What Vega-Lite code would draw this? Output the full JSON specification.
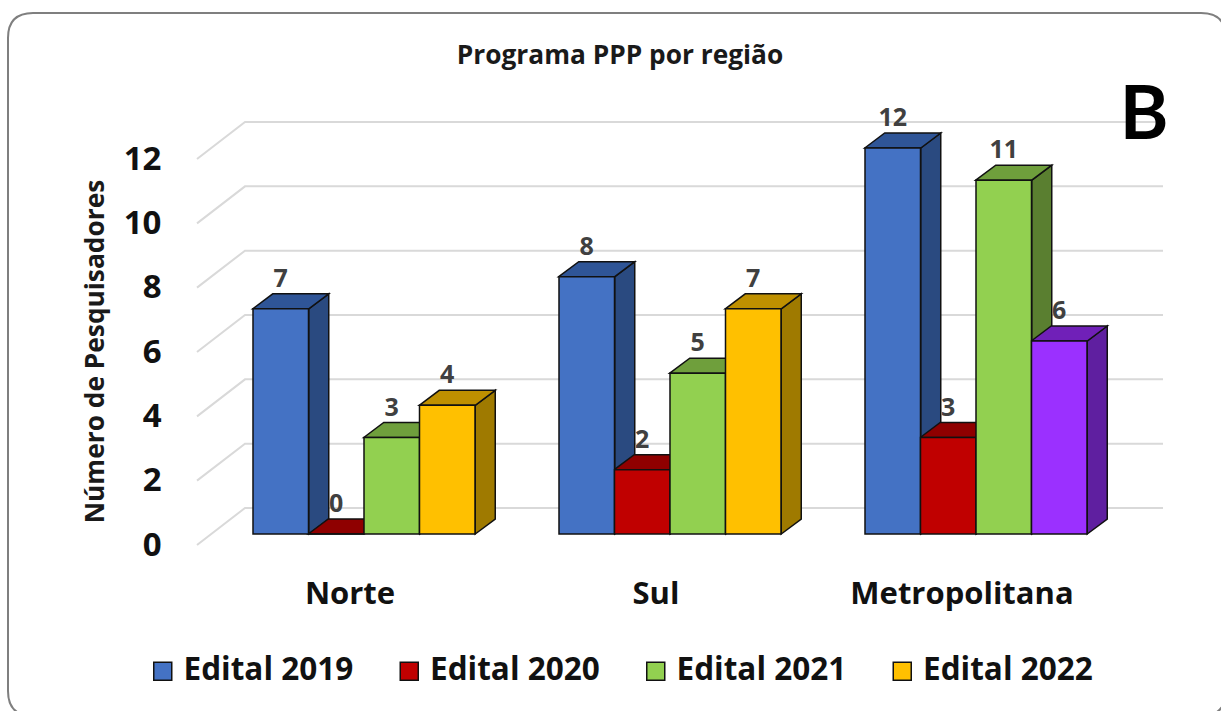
{"$schema":"https://vega.github.io/schema/vega-lite/v6.json","autosize":{"type":"none"},"width":918,"height":386,"padding":{"left":211,"top":148,"right":92,"bottom":177},"background":"#ffffff","config":{"view":{"stroke":null},"font":"Open Sans"},"title":{"text":"Programa PPP por região","font":"Open Sans","fontSize":26.3,"fontWeight":"bold","color":"#1a1a1a","anchor":"middle","dx":-50,"offset":-60},"datasets":{"barras":[{"regiao":"Norte","edital":"Edital 2019","valor":7},{"regiao":"Norte","edital":"Edital 2020","valor":0},{"regiao":"Norte","edital":"Edital 2021","valor":3},{"regiao":"Norte","edital":"Edital 2022","valor":4},{"regiao":"Sul","edital":"Edital 2019","valor":8},{"regiao":"Sul","edital":"Edital 2020","valor":2},{"regiao":"Sul","edital":"Edital 2021","valor":5},{"regiao":"Sul","edital":"Edital 2022","valor":7},{"regiao":"Metropolitana","edital":"Edital 2019","valor":12},{"regiao":"Metropolitana","edital":"Edital 2020","valor":3},{"regiao":"Metropolitana","edital":"Edital 2021","valor":11},{"regiao":"Metropolitana","edital":"Edital 2022","valor":6}],"marcas":[{"tick":0},{"tick":2},{"tick":4},{"tick":6},{"tick":8},{"tick":10},{"tick":12}]},"layer":[{"data":{"values":[{"moldura":1}]},"mark":{"type":"point","filled":false,"opacity":1,"size":4,"stroke":"#7f7f7f","strokeWidth":2,"shape":"M-637,-328 L531,-328 Q556,-328 556,-303 L556,350 Q556,375 531,375 L-637,375 Q-662,375 -662,350 L-662,-303 Q-662,-328 -637,-328 Z"}},{"data":{"name":"marcas"},"mark":{"type":"point","filled":false,"opacity":1,"size":4,"stroke":"#d9d9d9","strokeWidth":2,"shape":"M493,-26 L-425,-26 L-473,11"},"encoding":{"y":{"field":"tick","type":"quantitative","scale":{"domain":[0,12],"nice":false,"zero":true},"axis":{"values":[0,2,4,6,8,10,12],"format":"d","grid":false,"domain":false,"ticks":false,"labelFont":"Open Sans","labelFontSize":33,"labelFontWeight":"bold","labelColor":"#111111","labelPadding":50,"labelOffset":11,"title":"Número de Pesquisadores","titleFont":"Open Sans","titleFontSize":26.3,"titleFontWeight":"bold","titleColor":"#1a1a1a","titleX":-116,"titleY":203,"titleAngle":-90,"titleAlign":"center","titleBaseline":"middle"}}}},{"data":{"name":"barras"},"mark":{"type":"point","filled":true,"opacity":1,"size":4,"stroke":"#111111","strokeWidth":1.5},"encoding":{"x":{"field":"regiao","type":"nominal","sort":["Norte","Sul","Metropolitana"],"scale":{"paddingInner":0.2745,"paddingOuter":0.13725},"axis":{"title":null,"labelAngle":0,"domain":false,"ticks":false,"labelFont":"Open Sans","labelFontSize":31,"labelFontWeight":"bold","labelColor":"#111111","labelPadding":45,"labelOffset":-14,"labelLimit":500}},"xOffset":{"field":"edital","type":"nominal","scale":{"type":"band","paddingInner":0,"paddingOuter":0}},"y":{"datum":0,"type":"quantitative"},"shape":{"field":"valor","type":"nominal","legend":null,"scale":{"domain":[0,2,3,4,5,6,7,8,11,12],"range":["M28,0 L48,-15 L48,-15 L28,0 Z","M28,0 L48,-15 L48,-79.33 L28,-64.33 Z","M28,0 L48,-15 L48,-111.5 L28,-96.5 Z","M28,0 L48,-15 L48,-143.67 L28,-128.67 Z","M28,0 L48,-15 L48,-175.83 L28,-160.83 Z","M28,0 L48,-15 L48,-208 L28,-193 Z","M28,0 L48,-15 L48,-240.17 L28,-225.17 Z","M28,0 L48,-15 L48,-272.33 L28,-257.33 Z","M28,0 L48,-15 L48,-368.83 L28,-353.83 Z","M28,0 L48,-15 L48,-401 L28,-386 Z"]}},"color":{"condition":{"test":"datum.regiao=='Metropolitana' && datum.edital=='Edital 2022'","value":"#5f1fa0"},"field":"edital","type":"nominal","legend":null,"scale":{"domain":["Edital 2019","Edital 2020","Edital 2021","Edital 2022"],"range":["#2a4a80","#7f0000","#5a7f30","#9f7a00"]}}}},{"data":{"name":"barras"},"mark":{"type":"point","filled":true,"opacity":1,"size":4,"stroke":"#111111","strokeWidth":1.5,"shape":"M-28,0 L-8,-15 L48,-15 L28,0 Z"},"encoding":{"x":{"field":"regiao","type":"nominal","sort":["Norte","Sul","Metropolitana"]},"xOffset":{"field":"edital","type":"nominal"},"y":{"field":"valor","type":"quantitative"},"color":{"condition":{"test":"datum.regiao=='Metropolitana' && datum.edital=='Edital 2022'","value":"#7020b8"},"field":"edital","type":"nominal","legend":null,"scale":{"domain":["Edital 2019","Edital 2020","Edital 2021","Edital 2022"],"range":["#2f5597","#8f0000","#6f9f3c","#bf9000"]}}}},{"data":{"name":"barras"},"mark":{"type":"bar","stroke":"#111111","strokeWidth":1.5},"encoding":{"x":{"field":"regiao","type":"nominal","sort":["Norte","Sul","Metropolitana"]},"xOffset":{"field":"edital","type":"nominal"},"y":{"field":"valor","type":"quantitative"},"color":{"condition":{"test":"datum.regiao=='Metropolitana' && datum.edital=='Edital 2022'","value":"#9b30ff"},"field":"edital","type":"nominal","scale":{"domain":["Edital 2019","Edital 2020","Edital 2021","Edital 2022"],"range":["#4472c4","#c00000","#92d050","#ffc000"]},"legend":{"title":null,"orient":"none","legendX":-64,"legendY":507,"direction":"horizontal","columns":4,"symbolType":"square","symbolSize":324,"symbolStrokeColor":"#111111","symbolStrokeWidth":1.5,"symbolOpacity":1,"labelFont":"Open Sans","labelFontSize":31.5,"labelFontWeight":"bold","labelColor":"#111111","labelLimit":300,"columnPadding":39.5,"labelOffset":5}}}},{"data":{"name":"barras"},"mark":{"type":"text","font":"Open Sans","fontSize":25,"fontWeight":"bold","color":"#404040","dy":-30,"baseline":"middle"},"encoding":{"x":{"field":"regiao","type":"nominal","sort":["Norte","Sul","Metropolitana"]},"xOffset":{"field":"edital","type":"nominal"},"y":{"field":"valor","type":"quantitative"},"text":{"field":"valor","type":"quantitative"}}},{"data":{"values":[{"rotulo":"B"}]},"mark":{"type":"text","font":"Lato","fontSize":74,"fontWeight":"bold","color":"#000000","dx":168,"dy":-31,"baseline":"middle"},"encoding":{"x":{"datum":"Metropolitana","type":"nominal"},"y":{"datum":12,"type":"quantitative"},"text":{"field":"rotulo","type":"nominal"}}}],"resolve":{"scale":{"color":"independent"}}}
